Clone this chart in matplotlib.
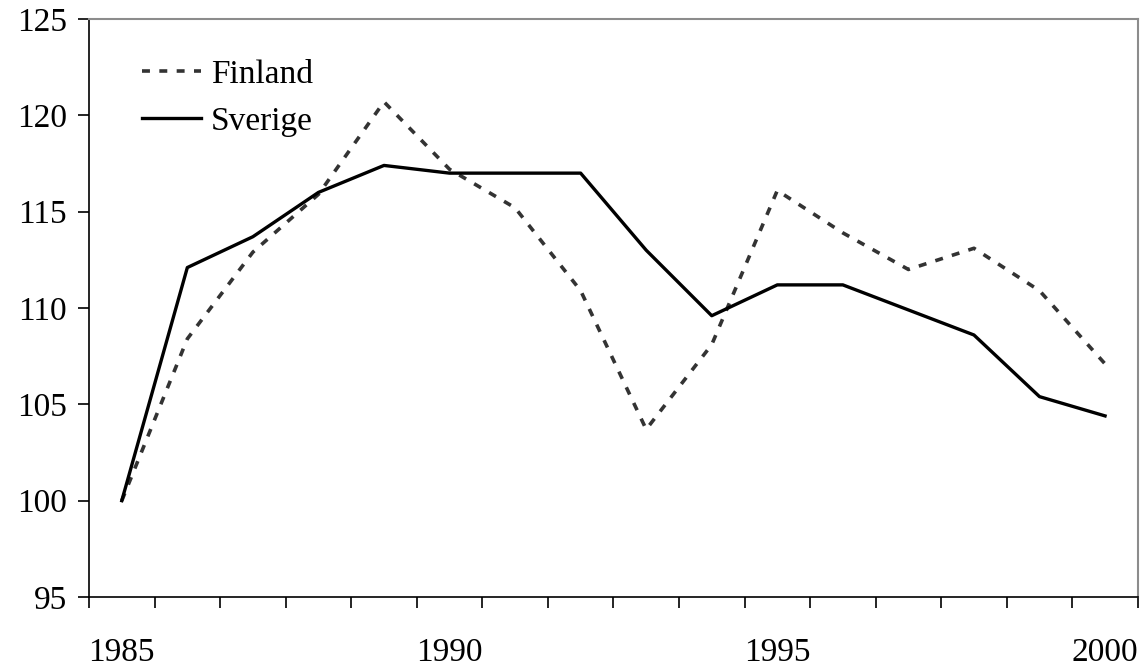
import numpy as np
import matplotlib
matplotlib.use("Agg")
import matplotlib.pyplot as plt

years = list(range(1985, 2001))
finland = [100.0, 108.4, 112.9, 115.9, 120.7, 117.2, 115.2, 110.9, 103.7, 108.1,
           116.1, 113.9, 112.0, 113.1, 110.9, 107.1]
sverige = [100.0, 112.1, 113.7, 116.0, 117.4, 117.0, 117.0, 117.0, 113.0, 109.6,
           111.2, 111.2, 109.9, 108.6, 105.4, 104.4]
shown_years = [1985, 1990, 1995, 2000]

plt.rcParams['font.family'] = ['Liberation Serif', 'DejaVu Serif']

fig = plt.figure(figsize=(11.47, 6.69), dpi=100)
ax = fig.add_axes([0.0776, 0.1076, 0.9144, 0.864])

x = np.arange(len(years))
ax.plot(x, finland, color='#333333', lw=2.6, dashes=(2.2, 2.6), label='Finland')
ax.plot(x, sverige, color='black', lw=2.4, label='Sverige')

ax.set_xlim(-0.5, len(years) - 0.5)
ax.set_ylim(95, 125)
ax.set_yticks(range(95, 126, 5))

# ticks on category boundaries, labels on category centres
ax.set_xticks(np.arange(-0.5, len(years)), minor=False)
ax.set_xticklabels([])
ax.set_xticks([years.index(y) for y in shown_years], minor=True)
ax.set_xticklabels([str(y) for y in shown_years], minor=True)
ax.tick_params(axis='x', which='major', direction='out', length=8, width=1.2)
ax.tick_params(axis='x', which='minor', length=0, pad=29, labelsize=24)
ax.tick_params(axis='y', direction='out', length=8, width=1.2, pad=8, labelsize=24)

for s in ['left', 'bottom']:
    ax.spines[s].set_color('black')
    ax.spines[s].set_linewidth(1.2)
for s in ['top', 'right']:
    ax.spines[s].set_color('#8c8c8c')
    ax.spines[s].set_linewidth(1.5)

ax.legend(loc='upper left', bbox_to_anchor=(0.051, 0.93), frameon=False,
          fontsize=24, handlelength=1.75, handletextpad=0.3, labelspacing=0.5,
          borderpad=0, borderaxespad=0)

fig.savefig('out.png', dpi=100)
